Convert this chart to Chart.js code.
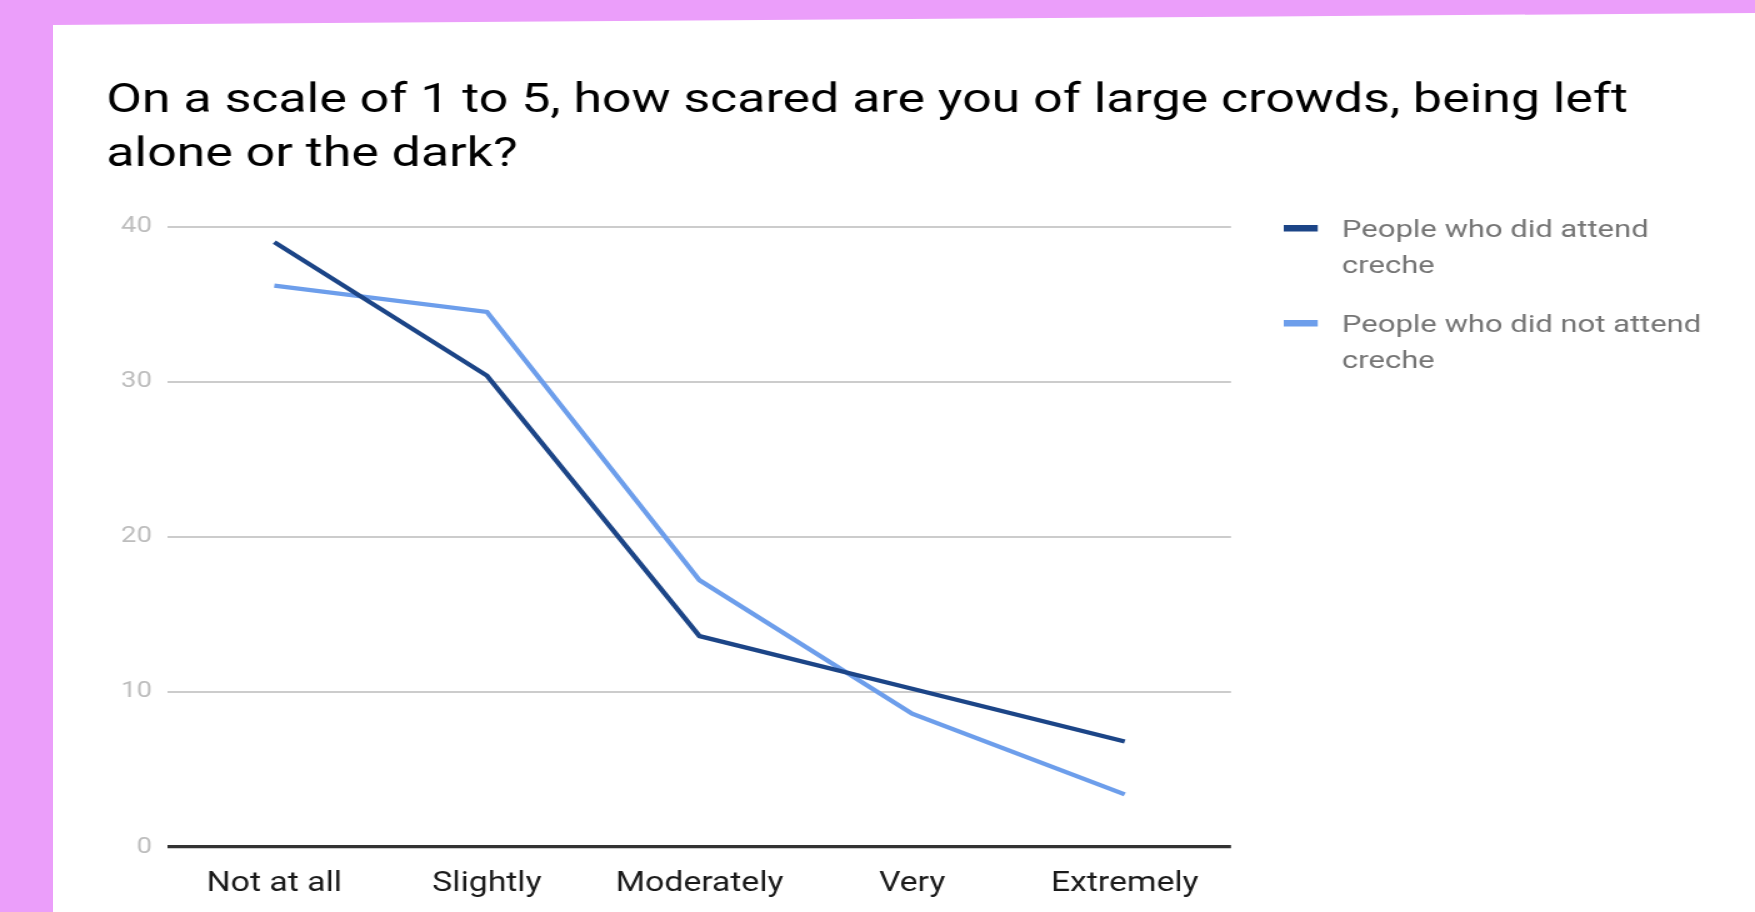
<!DOCTYPE html>
<html>
<head>
<meta charset="utf-8">
<title>Fear of crowds, being alone or the dark</title>
<script src="https://cdn.jsdelivr.net/npm/chart.js@4.4.1/dist/chart.umd.min.js"></script>
<style>
  html, body { margin: 0; padding: 0; width: 1755px; height: 912px; overflow: hidden; background: #EB9EFA; }
  #panel {
    position: absolute; left: 53px; top: 0; width: 1702px; height: 912px; background: #ffffff;
    clip-path: polygon(0 25px, 100% 13px, 100% 100%, 0 100%);
  }
  /* the chart is laid out narrower and stretched sideways to get its wide lettering */
  #wrap { position: absolute; left: 0; top: 0; width: 1404px; height: 912px; transform: scaleX(1.25); transform-origin: 0 0; }
</style>
</head>
<body>
<div id="panel"></div>
<div id="wrap"><canvas id="chart"></canvas></div>
<script>
// ---- data ----
const categories = ['Not at all', 'Slightly', 'Moderately', 'Very', 'Extremely'];
const attendedCreche = [39.0, 30.4, 13.6, 10.2, 6.8];
const notAttendedCreche = [36.2, 34.5, 17.2, 8.6, 3.4];
const seriesNames = ['People who did attend creche', 'People who did not attend creche'];
const titleLines = ['On a scale of 1 to 5, how scared are you of large crowds, being left', 'alone or the dark?'];
const yTicks = [0, 10, 20, 30, 40];

// ---- styling ----
const seriesColors = ['#1c4587', '#6d9eeb'];
const FONT = 'Roboto';

// Legend drawn to the right of the plot, with word wrapping
const sideLegend = {
  id: 'sideLegend',
  afterDraw(chart, args, opts) {
    const ctx = chart.ctx;
    ctx.save();
    ctx.font = `${opts.fontSize}px ${FONT}`;
    ctx.textAlign = 'left';
    ctx.textBaseline = 'alphabetic';
    chart.data.datasets.forEach((ds, i) => {
      const base = opts.top + i * opts.itemGap;
      ctx.fillStyle = ds.borderColor;
      ctx.fillRect(opts.swatchX, base - opts.swatchRise, opts.swatchW, opts.swatchH);
      const words = ds.label.split(' ');
      const lines = [];
      let cur = '';
      words.forEach(w => {
        const test = cur ? cur + ' ' + w : w;
        if (cur && ctx.measureText(test).width > opts.maxWidth) { lines.push(cur); cur = w; }
        else cur = test;
      });
      if (cur) lines.push(cur);
      ctx.fillStyle = opts.color;
      lines.forEach((ln, j) => ctx.fillText(ln, opts.textX, base + j * opts.lineGap));
    });
    ctx.restore();
  }
};

new Chart(document.getElementById('chart'), {
  type: 'line',
  data: {
    labels: categories,
    datasets: [
      { label: seriesNames[0], data: attendedCreche, borderColor: seriesColors[0], backgroundColor: seriesColors[0] },
      { label: seriesNames[1], data: notAttendedCreche, borderColor: seriesColors[1], backgroundColor: seriesColors[1] }
    ]
  },
  options: {
    responsive: true,
    maintainAspectRatio: false,
    animation: false,
    layout: { padding: { left: 85, right: 0, top: 0, bottom: 0 } },
    elements: {
      line: { borderWidth: 4.2, tension: 0, fill: false },
      point: { radius: 0, hoverRadius: 0 }
    },
    plugins: {
      legend: { display: false },
      tooltip: { enabled: false },
      title: {
        display: true,
        text: titleLines,
        align: 'start',
        color: '#000000',
        font: { family: FONT, size: 41.5, weight: 'normal', lineHeight: 53.5 / 41.5 },
        padding: { top: 75.3, bottom: 44.4 }
      },
      sideLegend: {
        top: 237, itemGap: 95, lineGap: 35.7,
        swatchX: 1027, swatchW: 27.2, swatchH: 6.5, swatchRise: 12,
        textX: 1073.6, maxWidth: 305, fontSize: 24.8, color: '#757575'
      }
    },
    scales: {
      x: {
        offset: true,
        grid: { display: false, drawTicks: false },
        border: { display: false },
        ticks: { color: '#1a1a1a', font: { family: FONT, size: 27 }, padding: 21.5, maxRotation: 0, autoSkip: false },
        afterFit: s => { s.height = 65; }
      },
      y: {
        min: yTicks[0],
        max: yTicks[yTicks.length - 1],
        afterBuildTicks: s => { s.ticks = yTicks.map(v => ({ value: v })); },
        grid: {
          drawTicks: false,
          color: c => (c.tick && c.tick.value === 0 ? '#333333' : '#cccccc'),
          lineWidth: c => (c.tick && c.tick.value === 0 ? 3.3 : 2)
        },
        border: { display: false },
        ticks: { color: '#bdbdbd', font: { family: FONT, size: 22 }, padding: 12.8 },
        afterFit: s => { s.width = 49.4; }
      },
      // empty axis that keeps room free for the legend on the right
      side: {
        position: 'right',
        display: true,
        ticks: { display: false },
        grid: { display: false, drawTicks: false },
        border: { display: false },
        afterFit: s => { s.width = 419.2; }
      }
    }
  },
  plugins: [sideLegend]
});
</script>
</body>
</html>
